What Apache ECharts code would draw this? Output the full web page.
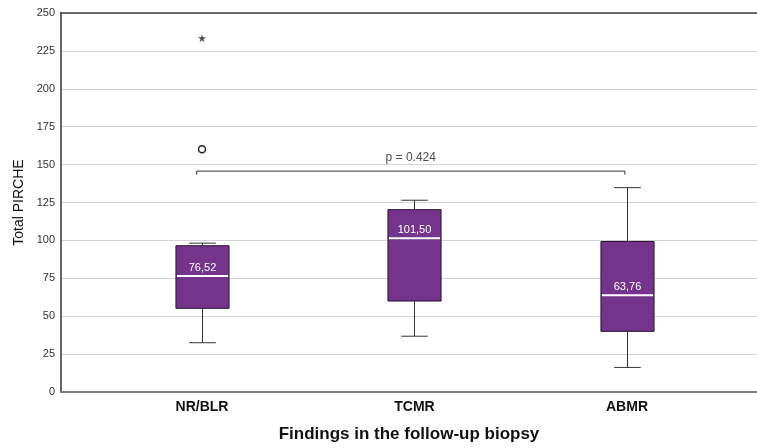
<!DOCTYPE html>
<html>
<head>
<meta charset="utf-8">
<script src="https://cdn.jsdelivr.net/npm/echarts@6/dist/echarts.min.js"></script>
<style>html,body{margin:0;padding:0;background:#fff}#c{width:757px;height:448px}</style>
</head>
<body>
<div id="c"></div>
<script>
const categories = ['NR/BLR', 'TCMR', 'ABMR'];
const whiskerLow = [32.5, 36.8, 16.2];
const q1 = [55.2, 60.0, 40.0];
const median = [76.52, 101.50, 63.76];
const q3 = [96.5, 120.3, 99.3];
const whiskerHigh = [98.2, 126.5, 134.8];
const medianLabels = ['76,52', '101,50', '63,76'];
const outlierCircle = [[0, 160.2]];
const outlierStar = [[0, 233.4]];
const bracketX = [-0.025, 1.99];
const bracketY = 145.7;
const bracketDrop = 2.3;
const pLabel = 'p = 0.424';
const yMin = 0, yMax = 250, yStep = 25;
const xMin = -0.6635, xMax = 2.6118;

const FONT = '"Liberation Sans", Arial, sans-serif';
const PURPLE = '#74348c';

const boxData = categories.map((c, i) => [i, whiskerLow[i], q1[i], median[i], q3[i], whiskerHigh[i]]);

const bracketData = [
  [bracketX[0], bracketY - bracketDrop],
  [bracketX[0], bracketY],
  [bracketX[1], bracketY],
  [bracketX[1], bracketY - bracketDrop]
];

const chart = echarts.init(document.getElementById('c'), null, {renderer: 'canvas'});
chart.setOption({
  animation: false,
  backgroundColor: '#ffffff',
  textStyle: {fontFamily: FONT},
  grid: {left: 61, right: 0, top: 13, bottom: 53, containLabel: false},
  xAxis: [{
    type: 'value', min: xMin, max: xMax,
    axisLine: {show: true, onZero: false, lineStyle: {color: '#808080', width: 2}},
    axisTick: {show: false},
    splitLine: {show: false},
    axisLabel: {
      customValues: [0, 1, 2],
      formatter: v => categories[Math.round(v)] || '',
      fontFamily: FONT, fontSize: 14, fontWeight: 'bold', color: '#111', margin: 8
    },
    name: 'Findings in the follow-up biopsy',
    nameLocation: 'middle', nameGap: 34,
    nameTextStyle: {fontFamily: FONT, fontSize: 17, fontWeight: 'bold', color: '#111'}
  }, {
    type: 'value', min: xMin, max: xMax, position: 'top',
    axisLine: {show: true, onZero: false, lineStyle: {color: '#404040', width: 1.5}},
    axisTick: {show: false}, axisLabel: {show: false}, splitLine: {show: false}
  }],
  yAxis: {
    type: 'value', min: yMin, max: yMax, interval: yStep,
    axisLine: {show: true, onZero: false, lineStyle: {color: '#666', width: 2}},
    axisTick: {show: false},
    axisLabel: {fontFamily: FONT, fontSize: 11, color: '#333', margin: 6},
    splitLine: {show: true, lineStyle: {color: '#d4d4d4', width: 1}},
    name: 'Total PIRCHE', nameLocation: 'middle', nameGap: 33,
    nameTextStyle: {fontFamily: FONT, fontSize: 14, color: '#111'}
  },
  series: [{
    type: 'custom',
    data: boxData,
    z: 5,
    renderItem: function (params, api) {
      const x = api.value(0);
      const band = api.size([1, 0])[0];
      const bw = band * 0.25, cw = band * 0.125;
      const pLow = api.coord([x, api.value(1)]);
      const pQ1 = api.coord([x, api.value(2)]);
      const pMed = api.coord([x, api.value(3)]);
      const pQ3 = api.coord([x, api.value(4)]);
      const pHigh = api.coord([x, api.value(5)]);
      const cx = Math.round(pMed[0]) + 0.5;
      const ws = {stroke: '#333', lineWidth: 1};
      return {
        type: 'group',
        children: [
          {type: 'line', shape: {x1: cx, y1: pQ3[1], x2: cx, y2: pHigh[1]}, style: ws},
          {type: 'line', shape: {x1: cx, y1: pQ1[1], x2: cx, y2: pLow[1]}, style: ws},
          {type: 'line', shape: {x1: cx - cw / 2, y1: pHigh[1], x2: cx + cw / 2, y2: pHigh[1]}, style: ws},
          {type: 'line', shape: {x1: cx - cw / 2, y1: pLow[1], x2: cx + cw / 2, y2: pLow[1]}, style: ws},
          {type: 'rect', shape: {x: cx - bw / 2, y: pQ3[1], width: bw, height: pQ1[1] - pQ3[1]},
            style: {fill: PURPLE, stroke: '#2a1533', lineWidth: 1}},
          {type: 'line', shape: {x1: cx - bw / 2 + 1, y1: pMed[1], x2: cx + bw / 2 - 1, y2: pMed[1]},
            style: {stroke: '#ffffff', lineWidth: 2}},
          {type: 'text', x: cx, y: pMed[1] - 8,
            style: {text: medianLabels[params.dataIndex], fill: '#ffffff', font: '11px ' + FONT,
              align: 'center', verticalAlign: 'middle'}}
        ]
      };
    }
  }, {
    type: 'scatter', data: outlierCircle, symbol: 'circle', symbolSize: 7, z: 6,
    itemStyle: {color: '#ffffff', borderColor: '#222222', borderWidth: 1.5, opacity: 1}
  }, {
    type: 'scatter', data: outlierStar, z: 6, symbolSize: 8,
    symbol: 'path://M50,0 L61,35 L98,35 L68,57 L79,91 L50,70 L21,91 L32,57 L2,35 L39,35 Z',
    itemStyle: {color: '#222'}
  }, {
    type: 'line', data: bracketData, symbol: 'none', z: 6,
    lineStyle: {color: '#333', width: 1}
  }, {
    type: 'scatter', data: [[(bracketX[0] + bracketX[1]) / 2, bracketY]], symbolSize: 0, z: 6,
    label: {show: true, position: 'top', distance: 7, formatter: pLabel,
      fontFamily: FONT, fontSize: 12, color: '#222'}
  }]
});
</script>
</body>
</html>
